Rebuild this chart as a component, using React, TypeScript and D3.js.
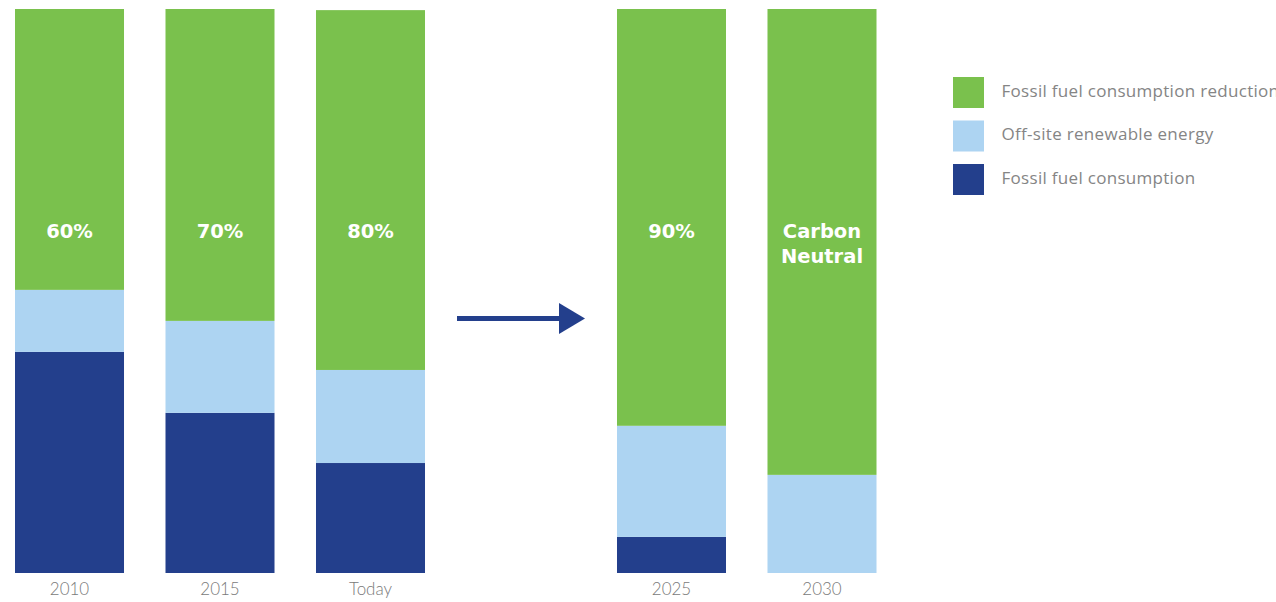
import React from "react";
import * as d3 from "d3";

const categories = ["2010", "2015", "Today", "", "2025", "2030"];
const fossilConsumption = [39.2, 28.4, 19.5, null, 6.4, 0];
const offsiteRenewable = [11.0, 16.3, 16.5, null, 19.7, 17.4];
const consumptionReduction = [49.8, 55.3, 63.8, null, 73.9, 82.6];
const barLabels = ["60%", "70%", "80%", "", "90%", "Carbon Neutral"];
const seriesNames = [
  "Fossil fuel consumption reduction",
  "Off-site renewable energy",
  "Fossil fuel consumption",
];
const colors = ["#7AC14D", "#ADD4F2", "#233F8C"];

const W = 1276;
const H = 602;

export default function App() {
  const x = d3
    .scaleBand<string>()
    .domain(categories)
    .range([15, 876.5])
    .paddingInner(0.2757)
    .paddingOuter(0);
  const y = d3.scaleLinear().domain([0, 100]).range([573, 9]);

  const rows = categories
    .map((c, i) => ({
      cat: c,
      dark: fossilConsumption[i],
      light: offsiteRenewable[i],
      green: consumptionReduction[i],
      label: barLabels[i],
    }))
    .filter((r) => r.dark !== null);

  const stack = d3.stack<any>().keys(["dark", "light", "green"]);
  const stacked = stack(rows);
  const keyColor: Record<string, string> = {
    dark: colors[2],
    light: colors[1],
    green: colors[0],
  };

  const bw = x.bandwidth();
  const gapCenter = (x("") as number) + bw / 2;
  const arrowY = 318.5;
  const labelFont = "'DejaVu Sans', Verdana, sans-serif";
  const axisFont = "Lato, 'Open Sans', sans-serif";
  const legendFont = "'Open Sans', Lato, sans-serif";

  return (
    <svg
      width={W}
      height={H}
      style={{ position: "absolute", left: 0, top: 0, display: "block" }}
    >
      {stacked.map((layer) => (
        <g key={layer.key} fill={keyColor[layer.key]}>
          {layer.map((d: any, i: number) => {
            const y0 = y(d[0]);
            const y1 = y(d[1]);
            if (Math.abs(y0 - y1) < 0.01) return null;
            return (
              <rect
                key={i}
                x={x(d.data.cat)}
                y={y1}
                width={bw}
                height={y0 - y1}
              />
            );
          })}
        </g>
      ))}

      {rows.map((r) => {
        const cx = (x(r.cat) as number) + bw / 2;
        const words = r.label.split(" ");
        return (
          <text
            key={"l" + r.cat}
            x={cx}
            textAnchor="middle"
            fill="#fff"
            fontFamily={labelFont}
            fontWeight="bold"
            fontSize={19.5}
          >
            {words.length === 1 ? (
              <tspan x={cx} y={237.5}>
                {r.label}
              </tspan>
            ) : (
              words.map((w, k) => (
                <tspan key={k} x={cx} y={237.5 + k * 25}>
                  {w}
                </tspan>
              ))
            )}
          </text>
        );
      })}

      {rows.map((r) => (
        <text
          key={"a" + r.cat}
          x={(x(r.cat) as number) + bw / 2}
          y={595}
          textAnchor="middle"
          fill="#7a7a7a"
          fontFamily={axisFont}
          fontWeight={300}
          fontSize={17}
        >
          {r.cat}
        </text>
      ))}

      <g fill="#233F8C">
        <rect x={gapCenter - 64} y={arrowY - 2.5} width={104} height={5} />
        <path
          d={`M${gapCenter + 38},${arrowY - 15.5} L${gapCenter + 64},${arrowY} L${gapCenter + 38},${arrowY + 15.5} Z`}
        />
      </g>

      {seriesNames.map((name, i) => (
        <g key={name} transform={`translate(953, ${77 + i * 43.5})`}>
          <rect width={31} height={31} fill={colors[i]} />
          <text
            x={48.5}
            y={19.5}
            fill="#858585"
            fontFamily={legendFont}
            fontWeight={400}
            fontSize={17}
            letterSpacing={0.3}
          >
            {name}
          </text>
        </g>
      ))}
    </svg>
  );
}
